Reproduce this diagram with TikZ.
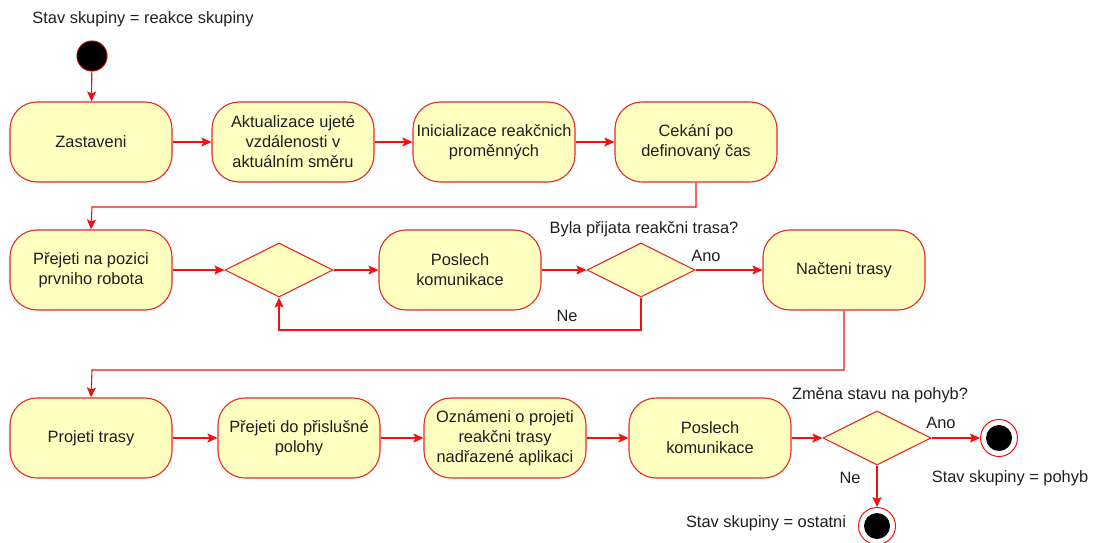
\documentclass[tikz,border=0pt]{standalone}
\usepackage{fontspec}
\setmainfont{Liberation Sans}
\usetikzlibrary{shapes.geometric,arrows.meta}
\definecolor{boxfill}{HTML}{FFFFC0}
\definecolor{boxred}{HTML}{E32B2B}
\definecolor{linered}{HTML}{F50F0F}
\definecolor{txt}{HTML}{1E1E1E}
\begin{document}
\begin{tikzpicture}[x=1pt,y=-1pt,
  font=\fontsize{16.4}{20}\selectfont, text=txt,
  act/.style={draw=boxred, fill=boxfill, line width=1.1pt, rounded corners=27pt,
    minimum width=162pt, minimum height=80pt, align=center, inner sep=0pt},
  dec/.style={diamond, draw=boxred, fill=boxfill, line width=1.1pt, aspect=2,
    minimum width=108pt, minimum height=54pt, inner sep=0pt},
  flow/.style={draw=linered, line width=1.1pt, -{Stealth[length=10pt,width=9pt,inset=2pt]}},
  startnode/.style={circle, fill=black, draw=red!65!black, line width=1pt,
    minimum size=30pt, inner sep=0pt},
  endnode/.style={circle, fill=white, draw=linered, line width=1pt,
    minimum size=37pt, inner sep=0pt,
    path picture={\fill[black] (path picture bounding box.center) circle (13pt);}},
  lbl/.style={inner sep=0pt}
]
\useasboundingbox (0,0) rectangle (1095,543);

% start
\node[lbl] (title) at (143,19) {Stav skupiny = reakce skupiny};
\node[startnode] (start) at (92,56) {};

% first row
\node[act] (zast) at (91,142) {Zastaveni};
\node[act] (akt) at (293,142) {Aktualizace ujeté\\vzdálenosti v\\aktuálním směru};
\node[act] (init) at (494,142) {Inicializace reakčnich\\proměnných};
\node[act] (cek) at (696,142) {Cekání po\\definovaný čas};

% second row
\node[act] (prej) at (91,270) {Přejeti na pozici\\prvniho robota};
\node[dec] (d1) at (279,270) {};
\node[act] (posl1) at (460,270) {Poslech\\komunikace};
\node[dec] (d2) at (641,270) {};
\node[act] (nact) at (844,270) {Načteni trasy};

% third row
\node[act] (proj) at (91,438) {Projeti trasy};
\node[act] (pres) at (299,438) {Přejeti do přislušné\\polohy};
\node[act] (ozn) at (505,438) {Oznámeni o projeti\\reakčni trasy\\nadřazené aplikaci};
\node[act] (posl2) at (710,438) {Poslech\\komunikace};
\node[dec] (d3) at (877,438) {};
\node[endnode] (endA) at (999,438) {};
\node[endnode] (endB) at (877,526) {};

% labels
\node[lbl] (q1) at (644,229) {Byla přijata reakčni trasa?};
\node[lbl] (ano1) at (706,256) {Ano};
\node[lbl] (ne1) at (567,316) {Ne};
\node[lbl] (q2) at (880,395) {Změna stavu na pohyb?};
\node[lbl] (ano2) at (941,423) {Ano};
\node[lbl] (ne2) at (850,478) {Ne};
\node[lbl] (sA) at (1010,478) {Stav skupiny = pohyb};
\node[lbl] (sB) at (766,523) {Stav skupiny = ostatni};

% bend points
\coordinate (r1) at (696,207);
\coordinate (r1b) at (92,207);
\coordinate (r2) at (844,370);
\coordinate (r2b) at (92,370);
\coordinate (nb) at (641,330);

% connectors
\draw[flow] (start) -- (zast);
\draw[flow] (zast) -- (akt);
\draw[flow] (akt) -- (init);
\draw[flow] (init) -- (cek);
\draw[flow] (cek.south) -- (r1) -- (r1b) -- (prej.north);
\draw[flow] (prej) -- (d1);
\draw[flow] (d1) -- (posl1);
\draw[flow] (posl1) -- (d2);
\draw[flow] (d2) -- (nact);
\draw[flow] (d2.south) -- (nb) -| (d1.south);
\draw[flow] (nact.south) -- (r2) -- (r2b) -- (proj.north);
\draw[flow] (proj) -- (pres);
\draw[flow] (pres) -- (ozn);
\draw[flow] (ozn) -- (posl2);
\draw[flow] (posl2) -- (d3);
\draw[flow] (d3.east) -- (endA);
\draw[flow] (d3.south) -- (endB);
\end{tikzpicture}
\end{document}
